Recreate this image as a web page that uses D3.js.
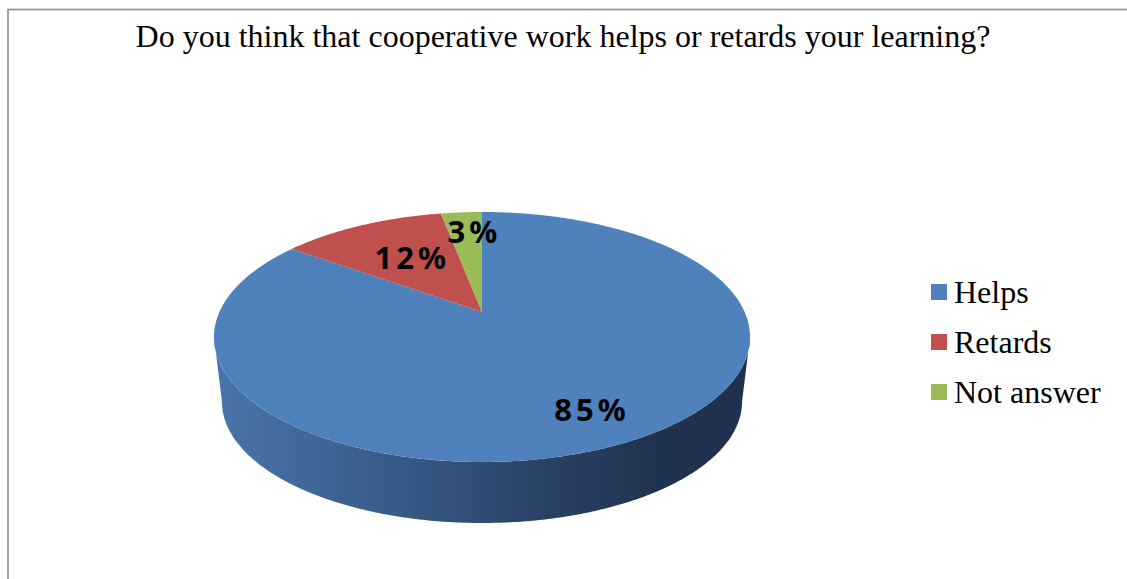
<!DOCTYPE html>
<html>
<head>
<meta charset="utf-8">
<script src="https://cdn.jsdelivr.net/npm/d3@7/dist/d3.min.js"></script>
<style>
  body { margin: 0; background: #fff; }
  svg { display: block; }
</style>
</head>
<body>
<div id="chart"></div>
<script>
// data
const categories = ["Helps", "Retards", "Not answer"];
const values = [85, 12, 3];
const labels = ["85%", "12%", "3%"];
const colors = ["#4f81bd", "#c0504d", "#9bbb59"];

const W = 1127, H = 579;
const svg = d3.select("#chart").append("svg")
    .attr("width", W)
    .attr("height", H);

// frame of the chart area
svg.append("rect")
    .attr("x", 8).attr("y", 9.5)
    .attr("width", W + 20).attr("height", H + 20)
    .attr("fill", "none")
    .attr("stroke", "#8c8c8c")
    .attr("stroke-width", 1.6);

svg.append("text")
    .attr("x", 563).attr("y", 47)
    .attr("text-anchor", "middle")
    .style("font-family", "'Liberation Serif', 'Times New Roman', serif")
    .style("font-size", "32px")
    .attr("fill", "#000")
    .text("Do you think that cooperative work helps or retards your learning?");

// perspective "3d" pie setup
const cx = 482, apexY = 312;
const kTop = 262.6, kyTop = 120;
const kBot = 254.8, kyBot = 116.4, botY = 377.5;
const persp = 0.2;

// theta: 0 at top, clockwise; r in unit circle
function project(theta, r, bottom) {
    let u = r * Math.sin(theta), v = -r * Math.cos(theta);
    let d = 1 - persp * v;
    if (bottom) return [cx + kBot * u / d, botY + kyBot * v / d];
    return [cx + kTop * u / d, apexY + kyTop * v / d];
}

function arcPoints(a0, a1, bottom) {
    let n = Math.max(4, Math.ceil((a1 - a0) / 0.01));
    return d3.range(n + 1).map(i => project(a0 + (a1 - a0) * i / n, 1, bottom));
}

const pie = d3.pie().sort(null).startAngle(0).endAngle(2 * Math.PI);
const arcs = pie(values);
const line = d3.line();

// side wall, only the front half is visible
const defs = svg.append("defs");
const grad = defs.append("linearGradient")
    .attr("id", "sideGrad")
    .attr("gradientUnits", "userSpaceOnUse")
    .attr("x1", 214).attr("y1", 0).attr("x2", 750).attr("y2", 0);
[[0, "#4a75aa"], [0.35, "#375a87"], [0.65, "#283f61"], [0.85, "#1f324e"], [1, "#1f3150"]]
    .forEach(s => grad.append("stop").attr("offset", s[0]).attr("stop-color", s[1]));

const sA = Math.PI - Math.acos(persp), sB = Math.PI + Math.acos(persp);
arcs.forEach((a, i) => {
    let a0 = Math.max(a.startAngle, sA), a1 = Math.min(a.endAngle, sB);
    if (a1 <= a0) return;
    let pts = arcPoints(a0, a1, false).concat(arcPoints(a0, a1, true).reverse());
    svg.append("path")
        .attr("d", line(pts) + "Z")
        .attr("fill", i === 0 ? "url(#sideGrad)" : d3.color(colors[i]).darker(1.2));
});

// top faces
arcs.forEach((a, i) => {
    let pts = [project(0, 0, false)].concat(arcPoints(a.startAngle, a.endAngle, false));
    svg.append("path")
        .attr("d", line(pts) + "Z")
        .attr("fill", colors[i]);
});

// data labels (excel nudges the small ones a bit clockwise)
const labelR = [0.78, 0.59, 0.78];
const labelNudge = [0, 0.03, 0.04];
arcs.forEach((a, i) => {
    let mid = (a.startAngle + a.endAngle) / 2 + labelNudge[i];
    let p = project(mid, labelR[i], false);
    svg.append("text")
        .attr("x", p[0] + 2).attr("y", p[1])
        .attr("text-anchor", "middle")
        .attr("dominant-baseline", "central")
        .style("font-family", "'Noto Sans', 'Open Sans', sans-serif")
        .style("font-weight", "bold")
        .style("font-size", "31px")
        .style("letter-spacing", "4px")
        .attr("fill", "#000")
        .text(labels[i]);
});

// legend
const legend = svg.append("g").attr("transform", "translate(931,284)");
categories.forEach((c, i) => {
    let g = legend.append("g").attr("transform", `translate(0,${i * 50})`);
    g.append("rect")
        .attr("width", 16).attr("height", 16)
        .attr("fill", colors[i]);
    g.append("text")
        .attr("x", 23).attr("y", 19)
        .style("font-family", "'Liberation Serif', 'Times New Roman', serif")
        .style("font-size", "32px")
        .attr("fill", "#000")
        .text(c);
});
</script>
</body>
</html>
